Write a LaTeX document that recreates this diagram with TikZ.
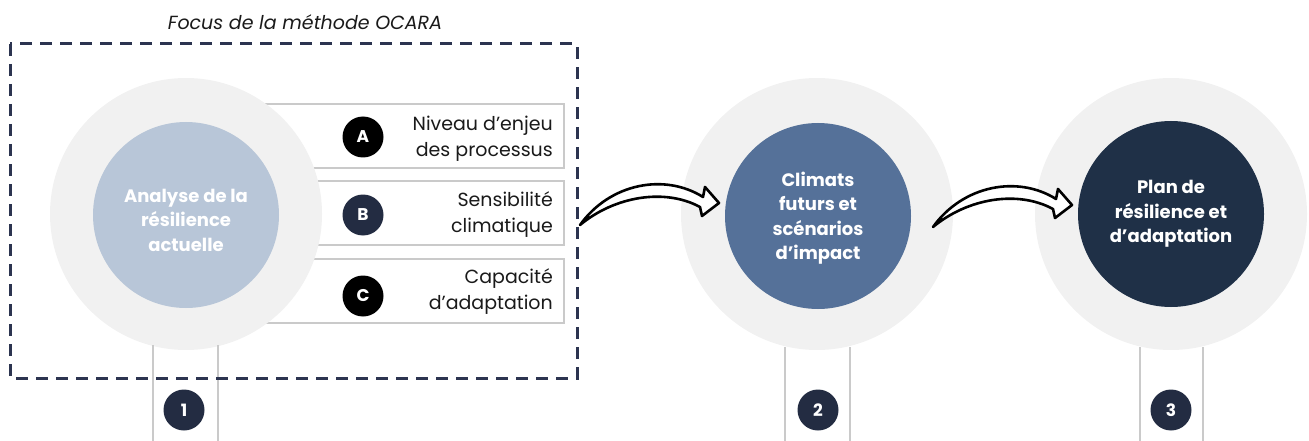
\documentclass[tikz,border=0pt]{standalone}
\usepackage{fontspec}
\setmainfont{Poppins}
\definecolor{outerc}{HTML}{F1F1F1}
\definecolor{inA}{HTML}{B8C6D8}
\definecolor{inB}{HTML}{557199}
\definecolor{inC}{HTML}{1F3047}
\definecolor{navy}{HTML}{232C42}
\definecolor{dashc}{HTML}{2C3450}
\definecolor{boxc}{HTML}{CACACA}
\definecolor{txt}{HTML}{1A1A1A}
\tikzset{
  outer/.style={circle, fill=outerc, minimum size=272pt, inner sep=0pt},
  inner/.style={circle, minimum size=186pt, inner sep=0pt},
  ctext/.style={text=white, align=center, font=\fontsize{18}{24.5}\selectfont\bfseries},
  badge/.style={circle, minimum size=41pt, inner sep=0pt, text=white, font=\fontsize{17}{18}\selectfont\bfseries},
  boxst/.style={draw=boxc, fill=white, line width=1.2pt, minimum width=334pt, minimum height=64pt, inner sep=0pt},
  btext/.style={anchor=east, align=right, inner sep=0pt, text=txt, font=\fontsize{19}{26}\selectfont},
  stem/.style={draw=boxc, line width=1.2pt},
  frame/.style={draw=dashc, line width=3pt, dash pattern=on 12pt off 8pt},
  arrowst/.style={draw=black, fill=white, line width=2.6pt, line join=round},
  pics/bigarrow/.style={code={
    \draw[arrowst] (0,0) .. controls (30,-42) and (85,-52) .. (123,-28)
      -- (125,-38) -- (139,-22) -- (122,-9) -- (120,-18)
      .. controls (85,-37) and (35,-29) .. cycle;
  }}
}
\begin{document}
\begin{tikzpicture}[x=1pt,y=-1pt]
\useasboundingbox (0,0) rectangle (1309,441);
% boxes behind circle 1
\node[boxst] (boxA) at (397,136) {};
\node[boxst] (boxB) at (397,213) {};
\node[boxst] (boxC) at (397,291) {};
% outer circles
\node[outer] (o1) at (186,214) {};
\node[outer] (o2) at (817,214) {};
\node[outer] (o3) at (1171,214) {};
% stems
\draw[stem] ([xshift=-33pt]o1.center) ++(0,131) -- ++(0,100);
\draw[stem] ([xshift=32pt]o1.center) ++(0,131) -- ++(0,100);
\draw[stem] ([xshift=-32pt]o2.center) ++(0,133) -- ++(0,100);
\draw[stem] ([xshift=33pt]o2.center) ++(0,133) -- ++(0,100);
\draw[stem] ([xshift=-31pt]o3.center) ++(0,133) -- ++(0,100);
\draw[stem] ([xshift=32pt]o3.center) ++(0,133) -- ++(0,100);
% inner circles
\node[inner, fill=inA] (i1) at (186,215) {};
\node[inner, fill=inB] (i2) at (818,216) {};
\node[inner, fill=inC] (i3) at (1171,214) {};
\node[ctext] (t1) at (186,220) {Analyse de la\\résilience\\actuelle};
\node[ctext] (t2) at (818,218) {Climats\\futurs et\\scénarios\\d’impact};
\node[ctext] (t3) at (1171,214) {Plan de\\résilience et\\d’adaptation};
% badges A B C
\node[badge, fill=black] (bA) at (363,137) {A};
\node[badge, fill=navy] (bB) at (363,215) {B};
\node[badge, fill=black] (bC) at (363,296) {C};
\node[btext] (tA) at (553,139) {Niveau d’enjeu\\des processus};
\node[btext] (tB) at (553,215) {Sensibilité\\climatique};
\node[btext] (tC) at (553,292) {Capacité\\d’adaptation};
% number badges
\node[badge, fill=navy] (n1) at (184,410) {1};
\node[badge, fill=navy] (n2) at (818,410) {2};
\node[badge, fill=navy] (n3) at (1171,410) {3};
% arrows
\pic at (580,225) {bigarrow};
\pic at (933,227) {bigarrow};
% dashed frame
\draw[frame] (10,44) rectangle (577,378);
\node[font=\fontsize{19}{22}\selectfont\itshape, text=txt] (title) at (305,22) {Focus de la méthode OCARA};
\end{tikzpicture}
\end{document}
